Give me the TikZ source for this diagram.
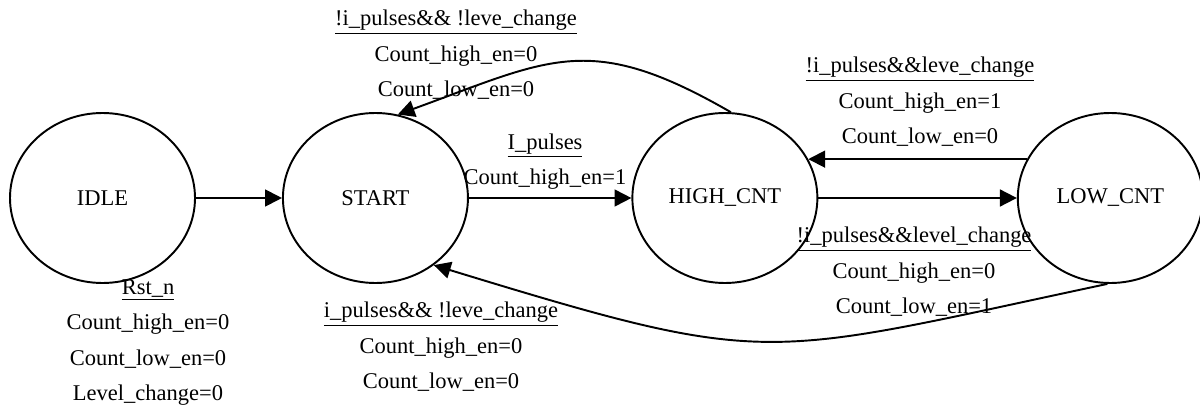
\documentclass[tikz,border=0pt]{standalone}
\usepackage{fontspec}
\setmainfont{Liberation Serif}
\usetikzlibrary{positioning, shapes.geometric, arrows.meta}

\begin{document}
\begin{tikzpicture}[state/.style={ellipse,draw,line width=1.1pt,minimum width=3.7cm,minimum height=3.4cm,font=\fontsize{12.8}{20.2}\selectfont}, cond/.style={align=center,inner sep=0pt,font=\fontsize{12.8}{20.2}\selectfont}, trans/.style={-{Triangle[length=9.6pt,width=9.6pt]}, line width=1.1pt}]
\useasboundingbox (0,0) rectangle (24,8.08);
\node (idle) [state] at (2.05,4.12) {IDLE};
\node (start) [state, right=1.72cm of idle] {START};
\node (high) [state, right=3.25cm of start] {HIGH\_CNT};
\node (low) [state, right=3.97cm of high] {LOW\_CNT};
  \begin{scope}
    \draw [trans] (idle) -- (start);
    \draw [trans] (start) -- (high);
    \draw [trans] (high) -- (low);
    \draw [trans] (low.155) -- (high.25);
    \draw [trans] (high.86) to[out=150,in=20,looseness=1.25] (start.75);
    \draw [trans] (low.268) to[out=192,in=-17,looseness=1.35] (start.-49);
    \node (rst) [cond] at (2.96,1.23) {\underline{Rst\_n}\\Count\_high\_en=0\\Count\_low\_en=0\\Level\_change=0};
    \node (back1) [cond] at (9.12,6.98) {\underline{!i\_pulses\&\& !leve\_change}\\Count\_high\_en=0\\Count\_low\_en=0};
    \node (go) [cond] at (10.9,4.85) {\underline{I\_pulses}\\Count\_high\_en=1};
    \node (tohigh) [cond] at (18.4,6.04) {\underline{!i\_pulses\&\&leve\_change}\\Count\_high\_en=1\\Count\_low\_en=0};
    \node (tolow) [cond] at (18.28,2.64) {\underline{!i\_pulses\&\&level\_change}\\Count\_high\_en=0\\Count\_low\_en=1};
    \node (back2) [cond] at (8.82,1.14) {\underline{i\_pulses\&\& !leve\_change}\\Count\_high\_en=0\\Count\_low\_en=0};
  \end{scope}
\end{tikzpicture}
\end{document}
